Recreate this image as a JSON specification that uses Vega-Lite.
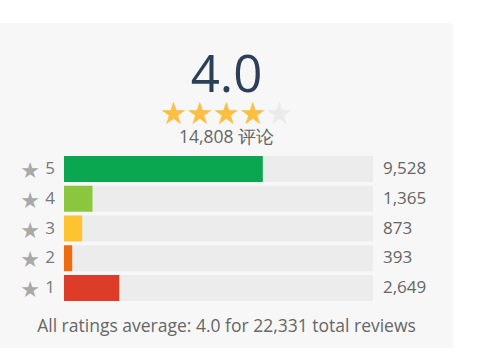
{
  "$schema": "https://vega.github.io/schema/vega-lite/v6.json",
  "background": "white",
  "padding": {"left": 0, "top": 23, "right": 27, "bottom": 10},
  "spacing": 0,
  "bounds": "flush",
  "resolve": {"scale": {"color": "independent", "x": "independent", "y": "independent"}},
  "config": {
    "view": {"stroke": null, "fill": "#f7f7f7"},
    "font": "Open Sans",
    "text": {"font": "Open Sans"}
  },
  "datasets": {
    "summary": [{"average": "4.0", "label": "14,808 评论", "footer": "All ratings average: 4.0 for 22,331 total reviews"}],
    "stars": [
      {"star": 1, "filled": "yes"},
      {"star": 2, "filled": "yes"},
      {"star": 3, "filled": "yes"},
      {"star": 4, "filled": "yes"},
      {"star": 5, "filled": "no"}
    ],
    "ratings": [
      {"rating": 5, "count": 9528},
      {"rating": 4, "count": 1365},
      {"rating": 3, "count": 873},
      {"rating": 2, "count": 393},
      {"rating": 1, "count": 2649}
    ]
  },
  "vconcat": [
    {
      "width": 453,
      "height": 77,
      "data": {"name": "summary"},
      "mark": {"type": "text", "fontSize": 51, "color": "#2b3f57", "baseline": "alphabetic", "dy": 30},
      "encoding": {
        "x": {"field": "average", "type": "nominal", "axis": null, "scale": {"type": "point"}},
        "text": {"field": "average"}
      }
    },
    {
      "width": 453,
      "height": 24,
      "data": {"name": "stars"},
      "mark": {"type": "text", "fontSize": 31, "font": "DejaVu Sans", "baseline": "middle", "dy": 3},
      "encoding": {
        "x": {"field": "star", "type": "quantitative", "axis": null, "scale": {"domain": [-5.55, 11.55], "nice": false, "zero": false}},
        "text": {"value": "★"},
        "color": {"field": "filled", "type": "nominal", "legend": null, "scale": {"domain": ["yes", "no"], "range": ["#fbbf44", "#ebebeb"]}}
      }
    },
    {
      "width": 453,
      "height": 28,
      "data": {"name": "summary"},
      "mark": {"type": "text", "fontSize": 17.5, "color": "#666666", "baseline": "middle"},
      "encoding": {
        "x": {"field": "label", "type": "nominal", "axis": null, "scale": {"type": "point"}},
        "text": {"field": "label"}
      }
    },
    {
      "width": 453,
      "height": 153,
      "data": {"name": "ratings"},
      "transform": [{"joinaggregate": [{"op": "sum", "field": "count", "as": "total"}]}],
      "encoding": {
        "y": {"field": "rating", "type": "ordinal", "sort": "descending", "axis": null, "scale": {"paddingInner": 0.128, "paddingOuter": 0.134}}
      },
      "layer": [
        {
          "mark": {"type": "bar", "color": "#ececec"},
          "encoding": {"x": {"field": "total", "type": "quantitative", "axis": null, "scale": {"range": [64, 373], "nice": false, "zero": true}}}
        },
        {
          "mark": {"type": "bar"},
          "encoding": {
            "x": {"field": "count", "type": "quantitative"},
            "color": {"field": "rating", "type": "ordinal", "legend": null, "scale": {"domain": [5, 4, 3, 2, 1], "range": ["#0aa650", "#8cc63f", "#fdc331", "#ee6c10", "#dd3d28"]}}
          }
        },
        {
          "mark": {"type": "text", "align": "right", "fontSize": 17, "color": "#777777", "dx": -9, "baseline": "middle"},
          "encoding": {"x": {"datum": 0}, "text": {"field": "rating"}}
        },
        {
          "mark": {"type": "text", "align": "center", "fontSize": 22, "font": "DejaVu Sans", "color": "#a9a9a9", "dx": -34, "dy": 2, "baseline": "middle"},
          "encoding": {"x": {"datum": 0}, "text": {"value": "★"}}
        },
        {
          "mark": {"type": "text", "align": "left", "fontSize": 17, "color": "#666666", "dx": 10, "baseline": "middle"},
          "encoding": {"x": {"field": "total", "type": "quantitative"}, "text": {"field": "count", "format": ",d"}}
        }
      ]
    },
    {
      "width": 453,
      "height": 43,
      "data": {"name": "summary"},
      "mark": {"type": "text", "fontSize": 17.5, "color": "#666666", "baseline": "middle"},
      "encoding": {
        "x": {"field": "footer", "type": "nominal", "axis": null, "scale": {"type": "point"}},
        "text": {"field": "footer"}
      }
    }
  ]
}
